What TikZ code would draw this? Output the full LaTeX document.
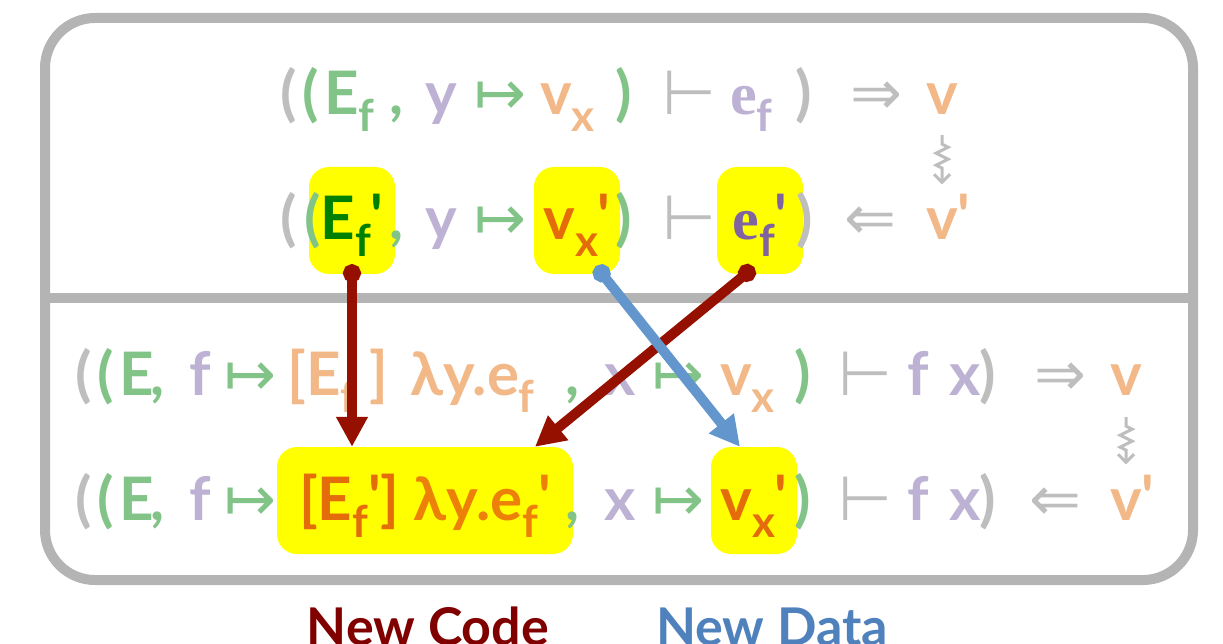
\documentclass[tikz,border=0pt]{standalone}
\usepackage{fontspec}
\setmainfont{Lato}
\newfontfamily\symf{DejaVu Sans}
\newfontfamily\efont{Liberation Serif}
\usetikzlibrary{arrows.meta,calc,decorations.pathmorphing}

\definecolor{framegray}{RGB}{180,180,180}
\definecolor{symgray}{RGB}{190,190,190}
\definecolor{lgreen}{RGB}{130,195,135}
\definecolor{lpurple}{RGB}{190,178,212}
\definecolor{lorange}{RGB}{242,184,135}
\definecolor{dgreen}{RGB}{0,128,0}
\definecolor{dorange}{RGB}{228,108,10}
\definecolor{amber}{RGB}{236,128,8}
\definecolor{dpurple}{RGB}{128,100,162}
\definecolor{hlyellow}{RGB}{255,255,0}
\definecolor{codered}{RGB}{150,16,0}
\definecolor{codetxt}{RGB}{128,0,0}
\definecolor{datablue}{RGB}{99,150,204}
\definecolor{datatxt}{RGB}{79,129,189}

% subscript and prime
\newcommand\dn[1]{\raisebox{-17pt}{\fontsize{44}{46}\selectfont #1}}
\newcommand\prm{\raisebox{2pt}{\textquotesingle}}

\begin{document}
\begin{tikzpicture}[x=1pt, y=-1pt,
  tok/.style={anchor=base west, inner sep=0pt, font=\bfseries\fontsize{60}{62}\selectfont},
  sym/.style={anchor=base west, inner sep=0pt, text=symgray, font=\symf\fontsize{62}{64}\selectfont},
  hl/.style={anchor=base, fill=hlyellow, rounded corners=20pt, inner sep=0pt, text height=73pt, text depth=34pt, minimum width=86pt, font=\bfseries\fontsize{60}{62}\selectfont},
  frm/.style={draw=framegray, line width=10pt},
  flow/.style={line width=10pt, {Circle[length=18pt]}-{Triangle[length=30pt,width=30pt]}},
  squig/.style={draw=symgray, line width=3pt, decorate, decoration={zigzag, amplitude=6pt, segment length=12pt, pre length=9pt, post length=11pt}, -{Straight Barb[length=8pt,width=16pt]}},
  lbl/.style={anchor=base, font=\bfseries\fontsize{52}{60}\selectfont}
]
    \useasboundingbox (0,0) rectangle (1223,644);

    % frame
    \draw[frm, rounded corners=50pt] (45,18) rectangle (1193,580);
    \draw[frm] (45,298) -- (1193,298);

    % highlights
    \node[hl, text=dgreen] (hEf) at (352,240) {E\dn{f}\prm};
    \node[hl, text=dorange] (hvx) at (577,240) {v\dn{x}\prm};
    \node[hl, text=dpurple] (hef) at (760,240) {{\efont e}\dn{f}\prm};
    \node[hl, minimum width=296pt] (hcode) at (425,520) {\textcolor{dorange}{[E\dn{f}\prm]}\hspace{14pt}\textcolor{amber}{λy.e\dn{f}\prm}};
    \node[hl, text=dorange] (hvx2) at (754,520) {v\dn{x}\prm};

    % row 1
    \node[tok, text=symgray] (p1a) at (280,115) {(};
    \node[tok, text=lgreen] (p1b) at (302,115) {(};
    \node[tok, text=lgreen] (E1) at (324,115) {E\dn{f}};
    \node[tok, text=lgreen] (c1) at (389,115) {,};
    \node[tok, text=lpurple] (y1) at (425,115) {y};
    \node[sym, text=lgreen] (m1) at (474,115) {↦};
    \node[tok, text=lorange] (vx1) at (540,115) {v\dn{x}};
    \node[tok, text=lgreen] (q1) at (615,115) {)};
    \node[sym] (t1) at (662,115) {⊢};
    \node[tok, text=lpurple] (ef1) at (730,115) {{\efont e}\dn{f}};
    \node[tok, text=symgray] (r1) at (795,115) {)};
    \node[sym] (d1) at (850,115) {⇒};
    \node[tok, text=lorange] (v1) at (926,115) {v};

    % row 2
    \node[tok, text=symgray] (p2a) at (280,240) {(};
    \node[tok, text=lgreen] (p2b) at (304,240) {(};
    \node[tok, text=lgreen] (c2) at (389,240) {,};
    \node[tok, text=lpurple] (y2) at (425,240) {y};
    \node[sym, text=lgreen] (m2) at (474,240) {↦};
    \node[tok, text=lgreen] (q2) at (615,240) {)};
    \node[sym] (t2) at (662,240) {⊢};
    \node[tok, text=symgray] (r2) at (796,240) {)};
    \node[sym] (l2) at (844,240) {⇐};
    \node[tok, text=lorange] (v2) at (926,240) {v\prm};

    % row 3
    \node[tok, text=symgray] (p3a) at (75,395) {(};
    \node[tok, text=lgreen] (p3b) at (97,395) {(};
    \node[tok, text=lgreen] (E3) at (119,395) {E};
    \node[tok, text=lgreen] (c3) at (150,395) {,};
    \node[tok, text=lpurple] (f3) at (189,395) {f};
    \node[sym, text=lgreen] (m3) at (224,395) {↦};
    \node[tok, text=lorange] (br3) at (287,395) {[E\dn{f}};
    \node[tok, text=lorange] (bc3) at (369,395) {]};
    \node[tok, text=lorange] (lam3) at (410,395) {λy.e\dn{f}};
    \node[tok, text=lgreen] (c3b) at (565,395) {,};
    \node[tok, text=lpurple] (x3) at (604,395) {x};
    \node[sym, text=lgreen] (m3b) at (652,395) {↦};
    \node[tok, text=lorange] (vx3) at (720,395) {v\dn{x}};
    \node[tok, text=lgreen] (q3) at (794,395) {)};
    \node[sym] (t3) at (838,395) {⊢};
    \node[tok, text=lpurple] (f3b) at (907,395) {f};
    \node[tok, text=lpurple] (x3b) at (949,395) {x};
    \node[tok, text=symgray] (r3) at (979,395) {)};
    \node[sym] (d3) at (1034,395) {⇒};
    \node[tok, text=lorange] (v3) at (1110,395) {v};

    % row 4
    \node[tok, text=symgray] (p4a) at (75,520) {(};
    \node[tok, text=lgreen] (p4b) at (97,520) {(};
    \node[tok, text=lgreen] (E4) at (119,520) {E};
    \node[tok, text=lgreen] (c4) at (150,520) {,};
    \node[tok, text=lpurple] (f4) at (189,520) {f};
    \node[sym, text=lgreen] (m4) at (224,520) {↦};
    \node[tok, text=lgreen] (c4b) at (565,520) {,};
    \node[tok, text=lpurple] (x4) at (604,520) {x};
    \node[sym, text=lgreen] (m4b) at (652,520) {↦};
    \node[tok, text=lgreen] (q4) at (794,520) {)};
    \node[sym] (t4) at (838,520) {⊢};
    \node[tok, text=lpurple] (f4b) at (907,520) {f};
    \node[tok, text=lpurple] (x4b) at (949,520) {x};
    \node[tok, text=symgray] (r4) at (979,520) {)};
    \node[sym] (l4) at (1029,520) {⇐};
    \node[tok, text=lorange] (v4) at (1110,520) {v\prm};

    % steps
    \draw[squig] ($(v1.south)+(0,20)$) -- ($(v1.south |- v2.north)+(0,-10)$);
    \draw[squig] ($(v3.south)+(0,22)$) -- ($(v3.south |- v4.north)+(0,-10)$);

    % what changes
    \draw[flow, codered] ($(hEf.south)+(0,-10)$) -- (hEf.south |- hcode.north);
    \draw[flow, codered] ($(hef.south)+(-6,-7)$) -- ($(hcode.north)+(110,0)$);
    \draw[flow, datablue] ($(hvx.south)+(19,-8)$) -- ($(hvx2.north)+(-14,0)$);

    \node[lbl, text=codetxt] (newcode) at (428,645) {New Code};
    \node[lbl, text=datatxt] (newdata) at (772,645) {New Data};
\end{tikzpicture}
\end{document}
